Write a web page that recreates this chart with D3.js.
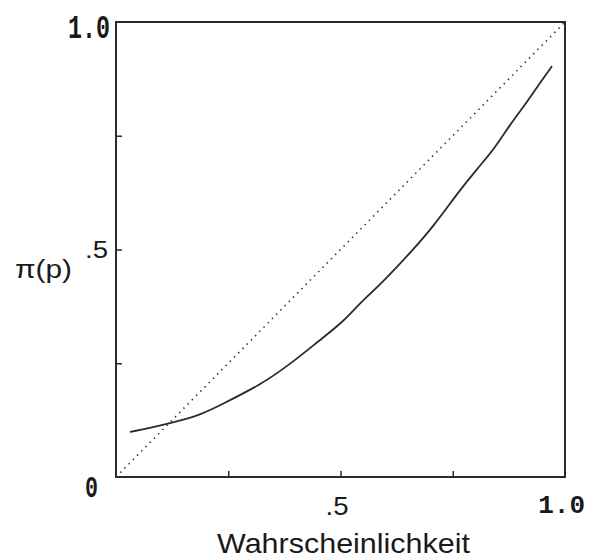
<!DOCTYPE html>
<html>
<head>
<meta charset="utf-8">
<script src="https://cdn.jsdelivr.net/npm/d3@7"></script>
<style>
  body { margin: 0; background: #fff; }
  svg { display: block; }
</style>
</head>
<body>
<div class="container"></div>
<script>
// weighting function pi(p)
var probP  = [0.031, 0.076, 0.131, 0.187, 0.232, 0.321, 0.388, 0.454, 0.506, 0.543, 0.595, 0.661, 0.704, 0.766, 0.806, 0.844, 0.877, 0.911, 0.949, 0.971];
var piP    = [0.099, 0.108, 0.121, 0.136, 0.158, 0.202, 0.248, 0.301, 0.341, 0.382, 0.429, 0.499, 0.547, 0.631, 0.679, 0.723, 0.774, 0.818, 0.873, 0.903];
var diagP  = [0, 1];
var tickVals = [0.25, 0.5, 0.75];

var W = 592, H = 559;
var margin = {top: 22, right: 27, bottom: 82, left: 116},
    width = W - margin.left - margin.right,
    height = H - margin.top - margin.bottom;

var svg = d3.select(".container").append("svg")
    .attr("width", W)
    .attr("height", H),
  g = svg.append("g")
    .attr("transform", "translate(" + margin.left + "," + margin.top + ")");

var x = d3.scaleLinear().domain([0, 1]).range([0, width]);
var y = d3.scaleLinear().domain([0, 1]).range([height, 0]);

var ink = "#2b2b22";

// frame
g.append("rect")
  .attr("x", 0).attr("y", 0)
  .attr("width", width).attr("height", height)
  .attr("fill", "none")
  .attr("stroke", ink)
  .attr("stroke-width", 2);

// inward ticks
var xAxis = g.append("g")
    .attr("transform", "translate(0," + height + ")")
    .call(d3.axisBottom(x).tickValues(tickVals).tickSize(-6).tickFormat(""));
var yAxis = g.append("g")
    .call(d3.axisLeft(y).tickValues(tickVals).tickSize(-6).tickFormat(""));
[xAxis, yAxis].forEach(function(a) {
  a.select(".domain").remove();
  a.selectAll("line").attr("stroke", ink).attr("stroke-width", 1.5);
});

// diagonal, dotted
var line = d3.line()
  .x(function(d) { return x(d[0]); })
  .y(function(d) { return y(d[1]); });

g.append("path")
  .datum(diagP.map(function(v) { return [v, v]; }))
  .attr("d", line)
  .attr("fill", "none")
  .attr("stroke", "#3a3a30")
  .attr("stroke-width", 1.6)
  .attr("stroke-dasharray", "1.5,4.5");

// pi(p) curve
g.append("path")
  .datum(probP.map(function(v, i) { return [v, piP[i]]; }))
  .attr("d", d3.line()
    .x(function(d) { return x(d[0]); })
    .y(function(d) { return y(d[1]); })
    .curve(d3.curveBasis))
  .attr("fill", "none")
  .attr("stroke", ink)
  .attr("stroke-width", 1.8);

// tick labels
var mono = "'Liberation Mono', 'DejaVu Sans Mono', monospace";
var sans = "'Liberation Sans', Arial, sans-serif";

function label(txt, px, py, size, fam, anchor, len) {
  var t = svg.append("text")
    .attr("x", px).attr("y", py)
    .attr("font-family", fam)
    .attr("font-size", size)
    .attr("fill", "#1a1a1a")
    .attr("text-anchor", anchor)
    .text(txt);
  if (len) t.attr("textLength", len).attr("lengthAdjust", "spacingAndGlyphs");
  return t;
}

label("1.0", margin.left - 48, margin.top + y(1) + 16, 34, mono, "start", 42).attr("font-weight", "bold");
label(".5", margin.left - 8, margin.top + y(0.5) + 8, 24, sans, "end", 23);
label("0", margin.left - 31, margin.top + y(0) + 20, 30, mono, "start", 13).attr("font-weight", "bold");
label(".5", margin.left + x(0.5) - 15, margin.top + height + 38, 25, sans, "start", 23);
label("1.0", margin.left + x(1) + 20, margin.top + height + 36, 26, mono, "end").attr("font-weight", "bold");

// axis titles
label("\u03c0(p)", 15, margin.top + y(0.5) + 28, 25, sans, "start", 57);
label("Wahrscheinlichkeit", margin.left + x(0.5) + 3, 553, 28, sans, "middle", 253);
</script>
</body>
</html>
